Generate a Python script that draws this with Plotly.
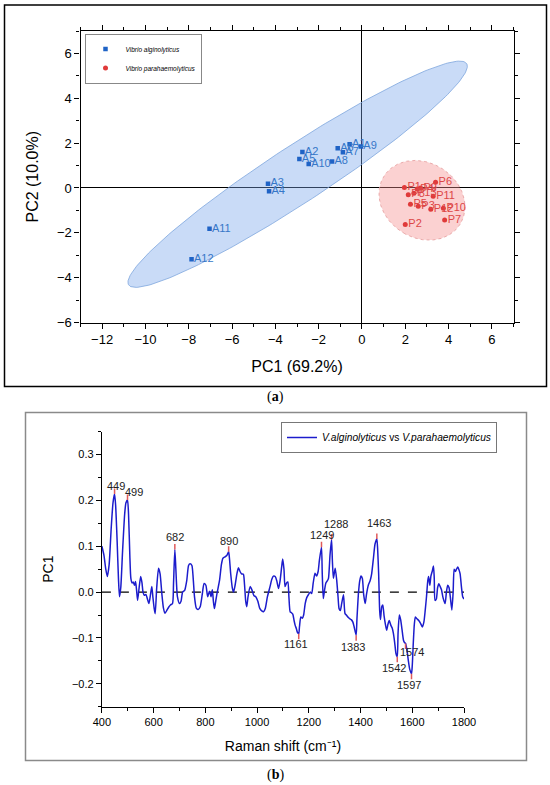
import numpy as np
import plotly.graph_objects as go

# ---------------- Panel (a) data: PCA scores ----------------
a_labels = ["A1", "A2", "A3", "A4", "A5", "A6", "A7", "A8", "A9", "A10", "A11", "A12"]
a_pc1 = [-0.57, -2.75, -4.34, -4.29, -2.89, -1.12, -0.88, -1.38, -0.05, -2.46, -7.04, -7.87]
a_pc2 = [1.95, 1.60, 0.19, -0.15, 1.29, 1.77, 1.59, 1.18, 1.85, 1.07, -1.82, -3.18]

p_labels = ["P1", "P2", "P3", "P4", "P5", "P6", "P7", "P8", "P9", "P10", "P11", "P12", "P13"]
p_pc1 = [1.96, 2.00, 2.60, 2.55, 2.24, 3.40, 3.82, 2.14, 2.70, 3.76, 3.29, 3.18, 2.40]
p_pc2 = [0.02, -1.63, -0.82, -0.05, -0.73, 0.26, -1.43, -0.30, 0.00, -0.90, -0.37, -0.95, -0.24]

# ---------------- Panel (b) data: PC1 loadings ----------------
raman_shift = [
    400, 408, 415, 421, 428, 436, 443, 449, 453, 459, 464, 468, 473, 480, 488, 493, 499, 503, 508, 512,
    517, 521, 526, 530, 534, 538, 544, 550, 555, 559, 564, 570, 576, 582, 588, 593, 597, 602, 606, 612,
    619, 625, 632, 638, 644, 651, 658, 665, 673, 677, 682, 686, 692, 700, 706, 712, 720, 728, 735, 741,
    748, 753, 758, 765, 772, 780, 788, 795, 802, 809, 816, 822, 827, 831, 835, 840, 846, 855, 862, 868,
    876, 883, 890, 893, 898, 904, 909, 915, 922, 928, 934, 940, 947, 951, 956, 960, 965, 973, 980, 988,
    995, 1003, 1010, 1018, 1025, 1032, 1040, 1050, 1057, 1063, 1070, 1076, 1083, 1089, 1095, 1099, 1104, 1108, 1114, 1119,
    1123, 1128, 1133, 1138, 1143, 1147, 1152, 1156, 1161, 1164, 1169, 1175, 1180, 1186, 1192, 1198, 1205, 1211, 1217, 1224,
    1230, 1236, 1241, 1249, 1252, 1256, 1261, 1266, 1272, 1276, 1282, 1288, 1291, 1295, 1302, 1308, 1313, 1317, 1322, 1327,
    1334, 1340, 1345, 1352, 1358, 1364, 1370, 1375, 1383, 1386, 1392, 1397, 1402, 1407, 1412, 1418, 1423, 1430, 1437, 1443,
    1450, 1456, 1463, 1466, 1470, 1474, 1477, 1482, 1486, 1491, 1496, 1501, 1506, 1511, 1517, 1522, 1527, 1532, 1537, 1542,
    1545, 1550, 1555, 1560, 1566, 1570, 1574, 1579, 1585, 1590, 1597, 1600, 1604, 1608, 1612, 1618, 1625, 1632, 1639, 1645,
    1650, 1655, 1660, 1663, 1668, 1672, 1677, 1682, 1685, 1688, 1693, 1698, 1703, 1708, 1713, 1718, 1722, 1727, 1732, 1737,
    1742, 1747, 1753, 1758, 1762, 1767, 1771, 1776, 1781, 1785, 1790, 1795, 1800,
]
pc1_loading = [
    0.100, 0.080, 0.050, 0.034, 0.060, 0.140, 0.195, 0.214, 0.190, 0.110, 0.030, -0.010, 0.010, 0.090, 0.170, 0.195, 0.201, 0.170, 0.080, 0.030,
    0.020, 0.022, 0.015, 0.023, 0.005, -0.018, 0.010, 0.034, 0.020, 0.000, -0.007, -0.005, -0.015, -0.025, -0.005, 0.012, -0.010, -0.035, -0.047, 0.010,
    0.052, 0.040, -0.005, -0.035, -0.046, -0.040, -0.033, -0.028, -0.025, 0.020, 0.093, 0.050, -0.010, -0.025, -0.020, 0.000, 0.004, 0.025, 0.058, 0.062,
    0.058, 0.030, -0.010, -0.035, -0.038, -0.032, -0.005, 0.019, 0.015, -0.010, 0.002, -0.010, 0.005, -0.020, -0.036, -0.020, 0.000, 0.026, 0.060, 0.074,
    0.077, 0.080, 0.088, 0.075, 0.040, 0.010, 0.000, 0.015, 0.040, 0.053, 0.045, 0.040, 0.039, 0.020, -0.020, -0.032, -0.010, 0.012, 0.005, -0.008,
    -0.010, -0.020, -0.035, -0.041, -0.043, -0.035, -0.010, 0.012, 0.028, 0.035, 0.034, 0.025, 0.008, 0.025, 0.055, 0.072, 0.050, 0.012, 0.020, 0.022,
    -0.010, -0.043, -0.045, -0.048, -0.062, -0.072, -0.080, -0.088, -0.091, -0.075, -0.054, -0.057, -0.050, -0.025, -0.012, -0.006, 0.000, -0.003, 0.020, 0.041,
    0.035, 0.045, 0.070, 0.098, 0.040, -0.014, 0.005, 0.020, 0.025, 0.030, 0.081, 0.115, 0.070, 0.030, 0.052, 0.025, -0.010, -0.036, -0.040, -0.025,
    -0.006, -0.047, -0.050, -0.055, -0.058, -0.060, -0.065, -0.075, -0.094, -0.060, -0.002, 0.025, 0.035, 0.030, -0.005, -0.025, -0.005, 0.015, 0.025, 0.040,
    0.075, 0.105, 0.116, 0.095, 0.040, -0.040, -0.060, -0.032, -0.028, -0.052, -0.070, -0.083, -0.070, -0.062, -0.072, -0.078, -0.090, -0.110, -0.134, -0.141,
    -0.090, -0.050, -0.060, -0.080, -0.105, -0.110, -0.112, -0.125, -0.150, -0.168, -0.178, -0.160, -0.110, -0.070, -0.054, -0.058, -0.062, -0.068, -0.076, -0.065,
    -0.040, -0.010, 0.025, 0.034, 0.015, 0.035, 0.045, 0.057, 0.030, -0.018, -0.015, 0.010, 0.018, 0.012, 0.005, -0.010, -0.018, -0.025, 0.000, 0.015,
    0.010, -0.010, -0.039, 0.000, 0.050, 0.045, 0.050, 0.055, 0.048, 0.040, 0.012, -0.010, -0.015,
]
peak_labels = ["449", "499", "682", "890", "1161", "1249", "1288", "1383", "1463", "1542", "1574", "1597"]

# ---------------- styles ----------------
FONT = "Liberation Sans, Arial, sans-serif"
BLUE_PT = "#1f63c6"
BLUE_TXT = "#3677c8"
RED_PT = "#e03a3a"
RED_TXT = "#dd4646"
LINE_BLUE = "#1c1ccc"
PEAK_RED = "#e05a5a"
# label pixel offsets (xshift, yshift) for the peak annotations
peak_label_shift = {
    "449": (1, 8), "499": (6, 8), "682": (0, 12), "890": (0, 11), "1161": (-3, -10),
    "1249": (1, 12), "1288": (4, 15), "1383": (-3, -12), "1463": (2, 16),
    "1542": (-3, -11), "1574": (6, -9), "1597": (-3, -11),
}


def prediction_ellipse(x, y, conf=0.95, npts=240):
    x = np.asarray(x, float)
    y = np.asarray(y, float)
    n = len(x)
    d2 = n - 2
    fcrit = d2 / 2.0 * ((1 - conf) ** (-2.0 / d2) - 1)  # F(2, n-2) quantile
    k = np.sqrt(2.0 * (n - 1) / (n - 2) * (1 + 1.0 / n) * fcrit)
    cov = np.cov(x, y)
    vals, vecs = np.linalg.eigh(cov)
    t = np.linspace(0, 2 * np.pi, npts)
    circ = np.vstack([np.cos(t), np.sin(t)])
    pts = vecs @ np.diag(np.sqrt(vals) * k) @ circ
    return pts[0] + x.mean(), pts[1] + y.mean()


fig = go.Figure()

# ellipses
ex, ey = prediction_ellipse(a_pc1, a_pc2)
fig.add_trace(go.Scatter(x=ex, y=ey, mode="lines", fill="toself",
                         fillcolor="rgba(120,165,235,0.40)",
                         line=dict(color="#7ea6dd", width=0.8),
                         showlegend=False, hoverinfo="skip", xaxis="x", yaxis="y"))
ex, ey = prediction_ellipse(p_pc1, p_pc2)
fig.add_trace(go.Scatter(x=ex, y=ey, mode="lines", fill="toself",
                         fillcolor="rgba(245,140,140,0.40)",
                         line=dict(color="#e49a9a", width=0.8, dash="dot"),
                         showlegend=False, hoverinfo="skip", xaxis="x", yaxis="y"))

# points
fig.add_trace(go.Scatter(x=a_pc1, y=a_pc2, mode="markers",
                         marker=dict(symbol="square", size=4.5, color=BLUE_PT),
                         name="<i>Vibrio alginolyticus</i>", legend="legend",
                         xaxis="x", yaxis="y"))
fig.add_trace(go.Scatter(x=p_pc1, y=p_pc2, mode="markers",
                         marker=dict(symbol="circle", size=5, color=RED_PT),
                         name="<i>Vibrio parahaemolyticus</i>", legend="legend",
                         xaxis="x", yaxis="y"))
fig.add_trace(go.Scatter(x=a_pc1, y=a_pc2, mode="text", text=a_labels,
                         texttemplate=" %{text}", textposition="middle right",
                         textfont=dict(family=FONT, size=11, color=BLUE_TXT),
                         showlegend=False, hoverinfo="skip", xaxis="x", yaxis="y"))
fig.add_trace(go.Scatter(x=p_pc1, y=p_pc2, mode="text", text=p_labels,
                         texttemplate=" %{text}", textposition="middle right",
                         textfont=dict(family=FONT, size=11, color=RED_TXT),
                         showlegend=False, hoverinfo="skip", xaxis="x", yaxis="y"))

# panel (b): baseline, spectrum, peak marks
fig.add_trace(go.Scatter(x=[raman_shift[0], raman_shift[-1]], y=[0, 0], mode="lines",
                         line=dict(color="black", width=1.3, dash="dash"),
                         showlegend=False, hoverinfo="skip", xaxis="x2", yaxis="y2"))
fig.add_trace(go.Scatter(x=raman_shift, y=pc1_loading, mode="lines",
                         line=dict(color=LINE_BLUE, width=1.5, shape="spline", smoothing=0.6),
                         name="<i>V.alginolyticus</i> vs <i>V.parahaemolyticus</i>",
                         legend="legend2", xaxis="x2", yaxis="y2"))

lookup = dict(zip(raman_shift, pc1_loading))
mx, my = [], []
for lab in peak_labels:
    px = int(lab)
    py = lookup[px]
    d = 0.012 if py > 0 else -0.012
    mx += [px, px, None]
    my += [py, py + d, None]
fig.add_trace(go.Scatter(x=mx, y=my, mode="lines", line=dict(color=PEAK_RED, width=1.5),
                         showlegend=False, hoverinfo="skip", xaxis="x2", yaxis="y2"))

annotations = []
for lab in peak_labels:
    px = int(lab)
    py = lookup[px]
    xs, ys = peak_label_shift[lab]
    annotations.append(dict(x=px, y=py, xref="x2", yref="y2", text=lab, showarrow=False,
                            xshift=xs, yshift=ys,
                            font=dict(family=FONT, size=11, color="#222222")))

annotations += [
    dict(x=0.5, y=1 - 397 / 785, xref="paper", yref="paper", text="(<b>a</b>)", showarrow=False,
         yanchor="middle", xanchor="center",
         font=dict(family="Liberation Serif, Times New Roman, serif", size=14, color="black")),
    dict(x=0.5, y=1 - 775 / 785, xref="paper", yref="paper", text="(<b>b</b>)", showarrow=False,
         yanchor="middle", xanchor="center",
         font=dict(family="Liberation Serif, Times New Roman, serif", size=14, color="black")),
]

axis_common = dict(showgrid=False, showline=True, linecolor="black", linewidth=1.2,
                   ticks="outside", tickcolor="black", ticklen=5, tickwidth=1.1,
                   automargin=False)

fig.update_layout(
    width=550, height=785,
    margin=dict(l=0, r=0, t=0, b=0, autoexpand=False),
    paper_bgcolor="white", plot_bgcolor="white",
    font=dict(family=FONT, color="black"),
    annotations=annotations,
    xaxis=dict(**axis_common, domain=[80.5 / 550, 513.5 / 550], range=[-13, 7], dtick=2, tick0=0,
               mirror="ticks", zeroline=True, zerolinecolor="black", zerolinewidth=1.3,
               minor=dict(ticks="outside", ticklen=3, dtick=1, tickcolor="black"),
               tickfont=dict(size=13), anchor="y",
               title=dict(text="PC1 (69.2%)", font=dict(size=16), standoff=14)),
    yaxis=dict(**axis_common, domain=[1 - 322.5 / 785, 1 - 31 / 785], range=[-6, 7], dtick=2, tick0=0,
               mirror="ticks", zeroline=True, zerolinecolor="black", zerolinewidth=1.3,
               minor=dict(ticks="outside", ticklen=3, dtick=1, tickcolor="black"),
               tickfont=dict(size=13), anchor="x",
               title=dict(text="PC2 (10.0%)", font=dict(size=16), standoff=14)),
    xaxis2=dict(**axis_common, domain=[101.9 / 550, 464 / 550], range=[400, 1800], dtick=200,
                zeroline=False, anchor="y2",
                minor=dict(ticks="outside", ticklen=3, dtick=100, tickcolor="black"),
                tickfont=dict(size=11),
                title=dict(text="Raman shift (cm⁻¹)", font=dict(size=14), standoff=14)),
    yaxis2=dict(**axis_common, domain=[1 - 706.7 / 785, 1 - 431.7 / 785], range=[-0.25, 0.35],
                dtick=0.1, tick0=0, tickformat=".1f", zeroline=False, anchor="x2",
                minor=dict(ticks="outside", ticklen=3, dtick=0.05, tickcolor="black"),
                tickfont=dict(size=11),
                title=dict(text="PC1", font=dict(size=14), standoff=14)),
    legend=dict(x=84.5 / 550, y=1 - 33.5 / 785, xanchor="left", yanchor="top",
                bgcolor="white", bordercolor="#888888", borderwidth=1,
                font=dict(size=6.5, family=FONT), itemwidth=30, tracegroupgap=0),
    legend2=dict(x=281 / 550, y=1 - 422 / 785, xanchor="left", yanchor="top",
                 bgcolor="white", bordercolor="#777777", borderwidth=1,
                 font=dict(size=10.2, family=FONT), itemwidth=30),
    shapes=[
        dict(type="rect", xref="paper", yref="paper", x0=4.5 / 550, x1=546.5 / 550,
             y0=1 - 386.5 / 785, y1=1 - 5 / 785, line=dict(color="black", width=1.5)),
        dict(type="rect", xref="paper", yref="paper", x0=25.5 / 550, x1=526.5 / 550,
             y0=1 - 760.5 / 785, y1=1 - 412.5 / 785, line=dict(color="#8a8a8a", width=1.5)),
    ],
)

fig.write_html("out.html", config={"displayModeBar": False},
               post_script="document.body.style.margin='0px';document.body.style.padding='0px';")
